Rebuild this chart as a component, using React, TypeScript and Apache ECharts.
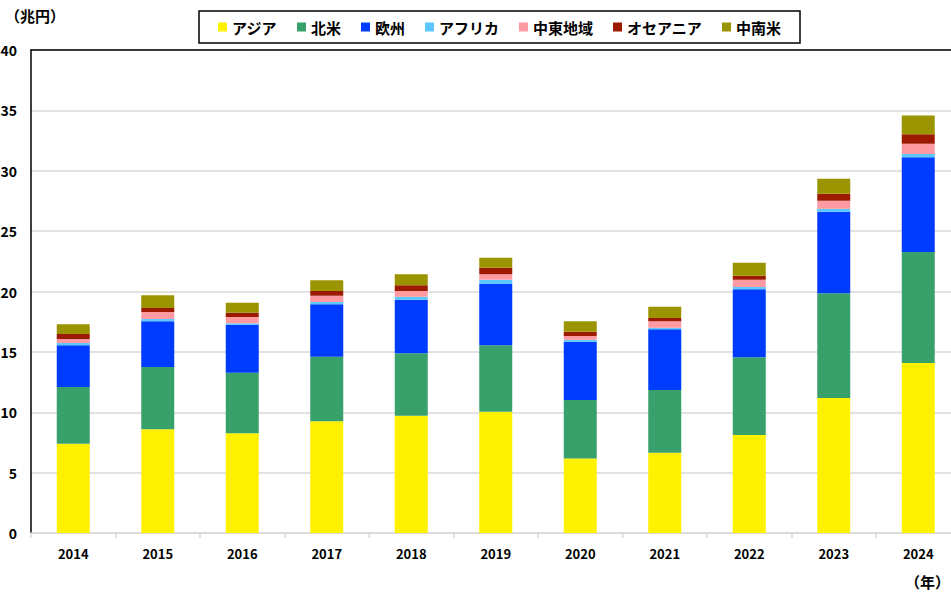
import React, { useEffect, useRef } from "react";
import * as echarts from "echarts";

const years = ["2014", "2015", "2016", "2017", "2018", "2019", "2020", "2021", "2022", "2023", "2024"];
const asia = [7.40, 8.59, 8.26, 9.25, 9.72, 10.05, 6.18, 6.65, 8.12, 11.18, 14.08];
const northAmerica = [4.69, 5.16, 5.02, 5.35, 5.16, 5.49, 4.83, 5.19, 6.43, 8.67, 9.19];
const europe = [3.45, 3.78, 3.97, 4.34, 4.44, 5.08, 4.83, 5.03, 5.63, 6.76, 7.84];
const africa = [0.20, 0.19, 0.12, 0.19, 0.25, 0.36, 0.17, 0.13, 0.19, 0.25, 0.28];
const middleEast = [0.33, 0.58, 0.52, 0.52, 0.47, 0.44, 0.30, 0.53, 0.61, 0.66, 0.85];
const oceania = [0.41, 0.33, 0.36, 0.39, 0.47, 0.55, 0.36, 0.28, 0.33, 0.58, 0.78];
const latinAmerica = [0.80, 1.06, 0.82, 0.89, 0.91, 0.83, 0.86, 0.93, 1.08, 1.24, 1.55];
const yTicks = { min: 0, max: 40, interval: 5 };

const seriesDefs = [
  { name: "アジア", data: asia, color: "#FFF200" },
  { name: "北米", data: northAmerica, color: "#38A06B" },
  { name: "欧州", data: europe, color: "#003CFF" },
  { name: "アフリカ", data: africa, color: "#5CC8FF" },
  { name: "中東地域", data: middleEast, color: "#FF99A2" },
  { name: "オセアニア", data: oceania, color: "#9C1A00" },
  { name: "中南米", data: latinAmerica, color: "#9A9400" },
];

const FONT = "'Noto Sans CJK JP', 'Noto Sans', sans-serif";

export default function App() {
  const ref = useRef<HTMLDivElement>(null);
  useEffect(() => {
    if (!ref.current) return;
    const chart = echarts.init(ref.current, null, { renderer: "svg" });
    chart.setOption({
      animation: false,
      backgroundColor: "#ffffff",
      textStyle: { fontFamily: FONT },
      legend: {
        left: 199,
        top: 11,
        padding: [8, 19, 8, 19],
        borderColor: "#000",
        borderWidth: 1.5,
        itemWidth: 9,
        itemHeight: 9,
        itemGap: 20,
        icon: "rect",
        textStyle: { fontSize: 15, lineHeight: 16, color: "#000", fontFamily: FONT, fontWeight: "bold" },
        data: seriesDefs.map((s) => s.name),
      },
      grid: { left: 31, top: 50, width: 929.5, height: 483, outerBoundsMode: "none", containLabel: false },
      xAxis: [
        {
          type: "category",
          data: years,
          axisLine: { lineStyle: { color: "#d9d9d9", width: 1.5 } },
          axisTick: { show: true, length: 5, lineStyle: { color: "#d9d9d9", width: 1.5 } },
          axisLabel: { color: "#000", fontSize: 13, fontWeight: "bold", margin: 14, fontFamily: FONT },
        },
        {
          type: "category",
          data: years,
          position: "top",
          axisLine: { show: true, lineStyle: { color: "#000", width: 1.5 } },
          axisTick: { show: false },
          axisLabel: { show: false },
        },
      ],
      yAxis: {
        type: "value",
        min: yTicks.min,
        max: yTicks.max,
        interval: yTicks.interval,
        axisLine: { show: true, lineStyle: { color: "#000", width: 1.5 } },
        axisTick: { show: false },
        splitLine: { lineStyle: { color: "#d9d9d9", width: 1.5 } },
        axisLabel: { color: "#000", fontSize: 14, fontWeight: "bold", margin: 14, fontFamily: FONT },
      },
      series: seriesDefs.map((s) => ({
        name: s.name,
        type: "bar",
        stack: "total",
        barWidth: 33,
        data: s.data,
        itemStyle: { color: s.color },
      })),
      graphic: [
        { type: "text", left: 5, top: 8, style: { text: "（兆円）", fontSize: 15, fontWeight: "bold", fill: "#000", fontFamily: FONT } },
        { type: "text", left: 905, top: 574, style: { text: "（年）", fontSize: 15, fontWeight: "bold", fill: "#000", fontFamily: FONT } },
      ],
    });
    return () => chart.dispose();
  }, []);
  return <div ref={ref} style={{ position: "fixed", left: 0, top: 0, width: 951, height: 596 }} />;
}
